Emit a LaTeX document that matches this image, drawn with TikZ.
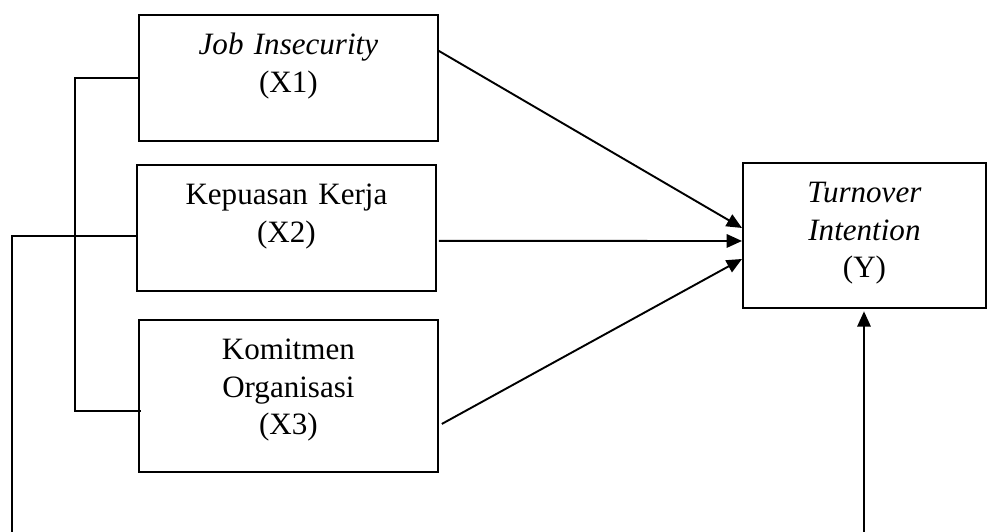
\documentclass[tikz,border=0pt]{standalone}
\usepackage{fontspec}
\setmainfont{Liberation Serif}
\usetikzlibrary{positioning, arrows.meta, calc}

\begin{document}
\begin{tikzpicture}[
        x=0.4185pt, y=-0.4185pt,
        >={Triangle[length=6.4pt, width=5.6pt]},
        line width=0.8pt,
        var/.style={draw, rectangle, fill=white, inner sep=0pt, align=center, anchor=north west,
                    text height=16.7pt, font=\fontsize{13}{15.7}\selectfont},
    ]
    \useasboundingbox (0,0) rectangle (987,532);

    % Draw the independent variables
    \node[var, text width=125.1pt, text depth=36pt] (X1) at (138,14) {\textit{Job Insecurity}\\(X1)};
    \node[var, text width=125.1pt, text depth=36pt] (X2) at (136,164) {Kepuasan Kerja\\(X2)};
    \node[var, text width=125.1pt, text depth=46.9pt] (X3) at (138,319) {Komitmen\\Organisasi\\(X3)};

    % Draw the dependent variable
    \node[var, text width=101.7pt, text depth=44pt] (Y) at (742,162) {\textit{Turnover}\\\textit{Intention}\\(Y)};

    % Connect every independent variable with the dependent one
    \draw[->] ($(X1.east)+(0,-27)$) -- ($(Y.west)+(0,-7.5)$);
    \draw[->] ($(X2.east)+(2,13)$) -- ($(Y.west)+(0,5.5)$);
    \draw[->] ($(X3.east)+(3,28)$) -- ($(Y.west)+(0,23.5)$);

    % Lines leaving the picture at the bottom
    \coordinate (outL) at (12,532);
    \coordinate (inR) at (864,532);
    \draw (X1.west) -- ++(-63,0) |- ($(X3.west)+(3,15)$);
    \draw ($(X2.west)+(0,8)$) -| (outL);
    \draw[->, shorten >=1pt] (inR) -- (Y.south -| inR);
\end{tikzpicture}
\end{document}
